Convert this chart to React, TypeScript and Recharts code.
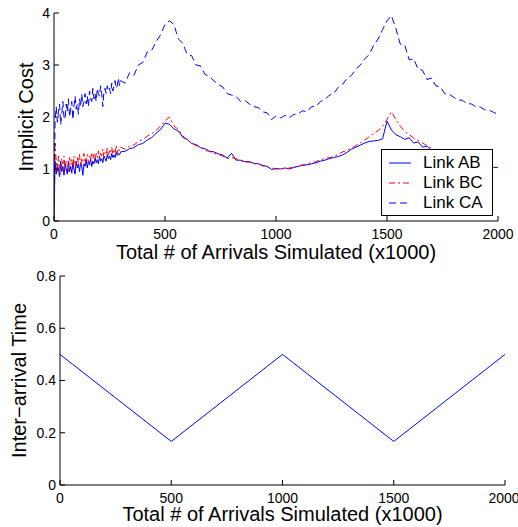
import { Legend, Line, LineChart, XAxis, YAxis } from "recharts";

const FONT = '"Liberation Sans", Arial, Helvetica, sans-serif';

// x positions (thousands of arrivals)
const ARRIVALS = [
  0, 5, 10, 15, 20, 25, 30, 35, 40, 45, 50, 55, 60, 65, 70, 75, 80, 85, 90, 95,
  100, 105, 110, 115, 120, 125, 130, 135, 140, 145, 150, 155, 160, 165, 170,
  175, 180, 185, 190, 195, 200, 205, 210, 215, 220, 225, 230, 235, 240, 245,
  250, 255, 260, 265, 270, 275, 280, 285, 290, 295, 300,
  320, 340, 360, 380, 400, 420, 440, 460, 480, 500,
  520, 540, 560, 580, 600, 620, 640, 660, 680, 700,
  720, 740, 760, 780, 800, 820, 840, 860, 880, 900,
  920, 940, 960, 980, 1000, 1020, 1040, 1060, 1080, 1100,
  1120, 1140, 1160, 1180, 1200, 1220, 1240, 1260, 1280, 1300,
  1320, 1340, 1360, 1380, 1400, 1420, 1440, 1460, 1480, 1500,
  1520, 1540, 1560, 1580, 1600, 1620, 1640, 1660, 1680, 1700,
  1720, 1740, 1760, 1780, 1800, 1820, 1840, 1860, 1880, 1900,
  1920, 1940, 1960, 1980, 2000,
];

const LINK_AB = [
  0.05, 1.15, 0.9, 1.1, 1.0, 0.85, 1.15, 0.95, 1.05, 0.88, 1.1, 1.0, 0.9, 1.15,
  0.95, 1.05, 0.92, 1.12, 1.0, 0.9, 1.15, 1.02, 1.1, 0.95, 1.12, 1.05, 0.88,
  1.1, 1.05, 1.18, 1.02, 1.15, 1.08, 1.2, 1.05, 1.15, 1.1, 1.22, 1.12, 1.18,
  1.1, 1.25, 1.15, 1.2, 1.12, 1.25, 1.2, 1.15, 1.28, 1.2, 1.25, 1.18, 1.3,
  1.22, 1.27, 1.22, 1.32, 1.26, 1.3, 1.27, 1.33,
  1.34, 1.39, 1.41, 1.47, 1.49, 1.56, 1.6, 1.69, 1.76, 1.88,
  1.86, 1.77, 1.73, 1.61, 1.57, 1.49, 1.47, 1.41, 1.39, 1.34,
  1.33, 1.29, 1.27, 1.21, 1.3, 1.17, 1.17, 1.14, 1.14, 1.11,
  1.1, 1.07, 1.05, 0.99, 1.01, 1.0, 1.02, 1.0, 1.03, 1.05,
  1.07, 1.08, 1.1, 1.12, 1.15, 1.17, 1.2, 1.22, 1.24, 1.27,
  1.32, 1.38, 1.42, 1.46, 1.5, 1.53, 1.54, 1.55, 1.58, 1.92,
  1.75, 1.66, 1.62, 1.57, 1.6, 1.5, 1.52, 1.42, 1.44, 1.35,
  1.33, 1.27, 1.26, 1.21, 1.2, 1.16, 1.15, 1.12, 1.12, 1.09,
  1.08, 1.06, 1.05, 1.03, 1.03,
];

const LINK_BC = [
  0.1, 1.5, 1.15, 0.95, 1.25, 1.05, 0.9, 1.2, 1.1, 1.25, 0.98, 1.15, 1.05,
  0.95, 1.22, 1.08, 1.18, 1.0, 1.25, 1.1, 1.05, 1.22, 1.12, 1.28, 1.05, 1.2,
  1.15, 1.3, 1.1, 1.22, 1.28, 1.12, 1.25, 1.18, 1.32, 1.2, 1.28, 1.15, 1.3,
  1.22, 1.35, 1.2, 1.3, 1.25, 1.38, 1.22, 1.32, 1.28, 1.4, 1.25, 1.35, 1.3,
  1.42, 1.28, 1.38, 1.32, 1.45, 1.3, 1.4, 1.35, 1.42,
  1.38, 1.44, 1.46, 1.53, 1.57, 1.63, 1.68, 1.74, 1.83, 1.92,
  2.0, 1.83, 1.76, 1.64, 1.56, 1.5, 1.45, 1.42, 1.36, 1.34,
  1.3, 1.28, 1.25, 1.2, 1.22, 1.2, 1.16, 1.14, 1.13, 1.1,
  1.1, 1.06, 1.04, 1.02, 1.0, 1.01, 1.0, 1.02, 1.04, 1.06,
  1.08, 1.1, 1.12, 1.14, 1.18, 1.2, 1.22, 1.24, 1.28, 1.33,
  1.36, 1.4, 1.45, 1.5, 1.56, 1.62, 1.68, 1.74, 1.82, 1.95,
  2.1, 1.95, 1.82, 1.72, 1.66, 1.6, 1.55, 1.5, 1.45, 1.4,
  1.35, 1.31, 1.27, 1.24, 1.21, 1.18, 1.16, 1.14, 1.12, 1.1,
  1.09, 1.07, 1.06, 1.04, 1.03,
];

const LINK_CA = [
  0.3, 1.95, 2.2, 1.9, 2.1, 2.25, 1.85, 2.05, 2.3, 2.0, 1.95, 2.25, 2.1, 2.35,
  2.0, 2.15, 2.3, 1.95, 2.2, 2.4, 2.15, 2.25, 2.05, 2.35, 2.2, 2.45, 2.2, 2.3,
  2.45, 2.25, 2.4, 2.2, 2.5, 2.35, 2.3, 2.55, 2.35, 2.45, 2.3, 2.55, 2.45,
  2.4, 2.6, 2.45, 2.2, 2.5, 2.55, 2.45, 2.6, 2.5, 2.55, 2.45, 2.65, 2.5, 2.6,
  2.7, 2.55, 2.6, 2.75, 2.6, 2.7,
  2.65, 2.85, 2.8, 3.0, 3.05, 3.25, 3.28, 3.45, 3.58, 3.78,
  3.85, 3.78, 3.5, 3.42, 3.2, 3.18, 3.0, 2.98, 2.82, 2.78,
  2.7, 2.62, 2.58, 2.45, 2.42, 2.4, 2.3, 2.32, 2.25, 2.2,
  2.18, 2.1, 2.08, 1.95, 2.02, 1.98, 2.03, 1.99, 2.05, 2.06,
  2.12, 2.1, 2.2, 2.2, 2.3, 2.33, 2.42, 2.45, 2.57, 2.63,
  2.74, 2.8, 2.92, 3.0, 3.12, 3.2, 3.38, 3.5, 3.68, 3.85,
  3.95, 3.7, 3.4, 3.38, 3.1, 3.12, 2.92, 2.9, 2.72, 2.75,
  2.6, 2.58, 2.45, 2.44, 2.38, 2.33, 2.32, 2.26, 2.25, 2.2,
  2.19, 2.14, 2.13, 2.09, 2.05,
];

// inter-arrival time schedule
const IAT_X = [0, 500, 1000, 1500, 2000];
const IAT_Y = [0.5, 0.1667, 0.5, 0.1667, 0.5];

const X_TICKS = [0, 500, 1000, 1500, 2000];
const COST_TICKS = [0, 1, 2, 3, 4];
const IAT_TICKS = [0, 0.2, 0.4, 0.6, 0.8];

const SERIES = [
  { key: "ab", name: "Link AB", color: "#0000ff", dash: undefined },
  { key: "bc", name: "Link BC", color: "#ff0000", dash: "6 3 2 3" },
  { key: "ca", name: "Link CA", color: "#0000ff", dash: "7 4" },
];

const costData = ARRIVALS.map((x, i) => ({
  x,
  ab: LINK_AB[i],
  bc: LINK_BC[i],
  ca: LINK_CA[i],
}));

const iatData = IAT_X.map((x, i) => ({ x, t: IAT_Y[i] }));

const tickStyle = { fill: "#000", fontSize: 14, fontFamily: FONT };
const labelStyle = { fill: "#000", fontSize: 20, fontFamily: FONT, textAnchor: "middle" as const };

function CostLegend() {
  return (
    <div
      style={{
        background: "#fff",
        border: "1px solid #000",
        boxSizing: "border-box",
        width: 112,
        height: 67,
        padding: "3px 0 0 6px",
        fontFamily: FONT,
        fontSize: 17,
      }}
    >
      {SERIES.map((s) => (
        <div key={s.key} style={{ display: "flex", alignItems: "center", height: 20 }}>
          <svg width={24} height={10} style={{ marginRight: 11 }}>
            <line
              x1={1}
              x2={23}
              y1={5}
              y2={5}
              stroke={s.color}
              strokeWidth={1}
              strokeDasharray={s.dash}
            />
          </svg>
          <span>{s.name}</span>
        </div>
      ))}
    </div>
  );
}

export default function App() {
  return (
    <div style={{ position: "absolute", left: 0, top: 0, width: 518, height: 527, background: "#fff" }}>
      <LineChart width={518} height={266} data={costData} margin={{ top: 13, right: 20, bottom: 0, left: 0 }}>
        <XAxis
          xAxisId="b"
          dataKey="x"
          type="number"
          domain={[0, 2000]}
          ticks={X_TICKS}
          tickSize={-5}
          tickMargin={13}
          height={45}
          stroke="#000"
          tick={tickStyle}
          allowDataOverflow
          label={{ value: "Total # of Arrivals Simulated (x1000)", position: "insideBottom", offset: 7, style: labelStyle }}
        />
        <XAxis xAxisId="t" orientation="top" type="number" domain={[0, 2000]} ticks={X_TICKS} tickSize={-5} tick={false} height={0} stroke="#000" allowDataOverflow />
        <YAxis
          yAxisId="l"
          type="number"
          domain={[0, 4]}
          ticks={COST_TICKS}
          tickSize={-5}
          tickMargin={9}
          width={54}
          stroke="#000"
          tick={tickStyle}
          allowDataOverflow
          label={{ value: "Implicit Cost", angle: -90, position: "insideLeft", offset: 26, style: labelStyle }}
        />
        <YAxis yAxisId="r" orientation="right" type="number" domain={[0, 4]} ticks={COST_TICKS} tickSize={-5} tick={false} width={0} stroke="#000" allowDataOverflow />
        {SERIES.map((s) => (
          <Line
            key={s.key}
            xAxisId="b"
            yAxisId="l"
            dataKey={s.key}
            name={s.name}
            type="linear"
            stroke={s.color}
            strokeWidth={1}
            strokeDasharray={s.dash}
            dot={false}
            activeDot={false}
            isAnimationActive={false}
          />
        ))}
        <Legend
          layout="horizontal"
          align="center"
          verticalAlign="middle"
          content={() => <CostLegend />}
          wrapperStyle={{ position: "absolute", left: 381, top: 149, width: 112, height: 67 }}
        />
      </LineChart>
      <div style={{ marginTop: -6 }}>
        <LineChart width={518} height={267} data={iatData} margin={{ top: 16, right: 13, bottom: 0, left: 0 }}>
          <XAxis
            xAxisId="b"
            dataKey="x"
            type="number"
            domain={[0, 2000]}
            ticks={X_TICKS}
            tickSize={-5}
            tickMargin={13}
            height={42}
            stroke="#000"
            tick={tickStyle}
            allowDataOverflow
            label={{ value: "Total # of Arrivals Simulated (x1000)", position: "insideBottom", offset: 6, style: labelStyle }}
          />
          <XAxis xAxisId="t" orientation="top" type="number" domain={[0, 2000]} ticks={X_TICKS} tickSize={-5} tick={false} height={0} stroke="#000" allowDataOverflow />
          <YAxis
            yAxisId="l"
            type="number"
            domain={[0, 0.8]}
            ticks={IAT_TICKS}
            tickSize={-5}
            tickMargin={9}
            width={60}
            stroke="#000"
            tick={tickStyle}
            allowDataOverflow
            label={{ value: "Inter−arrival Time", angle: -90, position: "insideLeft", offset: 19, style: labelStyle }}
          />
          <YAxis yAxisId="r" orientation="right" type="number" domain={[0, 0.8]} ticks={IAT_TICKS} tickSize={-5} tick={false} width={0} stroke="#000" allowDataOverflow />
          <Line
            xAxisId="b"
            yAxisId="l"
            dataKey="t"
            type="linear"
            stroke="#0000ff"
            strokeWidth={1}
            dot={false}
            activeDot={false}
            isAnimationActive={false}
          />
        </LineChart>
      </div>
    </div>
  );
}
